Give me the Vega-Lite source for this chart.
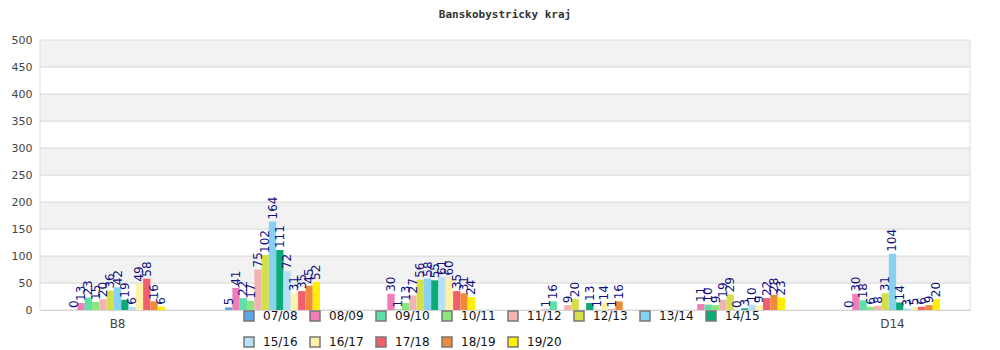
{
  "$schema": "https://vega.github.io/schema/vega-lite/v6.json",
  "width": 930,
  "height": 270,
  "autosize": {"type": "none"},
  "padding": {"left": 40, "top": 40, "right": 30, "bottom": 40},
  "background": "white",
  "title": {"text": "Banskobystricky kraj", "font": "DejaVu Sans Mono", "fontSize": 11, "fontWeight": "bold", "color": "#333", "anchor": "middle", "offset": 14},
  "config": {"view": {"stroke": null}, "axis": {"labelOverlap": false, "labelSeparation": 0}},
  "datasets": {
    "bands": [{"a": 0, "b": 50, "k": 0}, {"a": 50, "b": 100, "k": 1}, {"a": 100, "b": 150, "k": 0}, {"a": 150, "b": 200, "k": 1}, {"a": 200, "b": 250, "k": 0}, {"a": 250, "b": 300, "k": 1}, {"a": 300, "b": 350, "k": 0}, {"a": 350, "b": 400, "k": 1}, {"a": 400, "b": 450, "k": 0}, {"a": 450, "b": 500, "k": 1}],
    "vals": [
      {"g": "B8", "s": "07/08", "v": 0}, {"g": "B8", "s": "08/09", "v": 13}, {"g": "B8", "s": "09/10", "v": 23}, {"g": "B8", "s": "10/11", "v": 15}, {"g": "B8", "s": "11/12", "v": 20}, {"g": "B8", "s": "12/13", "v": 36}, {"g": "B8", "s": "13/14", "v": 42}, {"g": "B8", "s": "14/15", "v": 19}, {"g": "B8", "s": "15/16", "v": 6}, {"g": "B8", "s": "16/17", "v": 49}, {"g": "B8", "s": "17/18", "v": 58}, {"g": "B8", "s": "18/19", "v": 16}, {"g": "B8", "s": "19/20", "v": 6},
      {"g": "G2", "s": "07/08", "v": 5}, {"g": "G2", "s": "08/09", "v": 41}, {"g": "G2", "s": "09/10", "v": 22}, {"g": "G2", "s": "10/11", "v": 17}, {"g": "G2", "s": "11/12", "v": 75}, {"g": "G2", "s": "12/13", "v": 102}, {"g": "G2", "s": "13/14", "v": 164}, {"g": "G2", "s": "14/15", "v": 111}, {"g": "G2", "s": "15/16", "v": 72}, {"g": "G2", "s": "16/17", "v": 31}, {"g": "G2", "s": "17/18", "v": 35}, {"g": "G2", "s": "18/19", "v": 45}, {"g": "G2", "s": "19/20", "v": 52},
      {"g": "G3", "s": "07/08", "v": null}, {"g": "G3", "s": "08/09", "v": 30}, {"g": "G3", "s": "09/10", "v": 1}, {"g": "G3", "s": "10/11", "v": 13}, {"g": "G3", "s": "11/12", "v": 27}, {"g": "G3", "s": "12/13", "v": 56}, {"g": "G3", "s": "13/14", "v": 58}, {"g": "G3", "s": "14/15", "v": 55}, {"g": "G3", "s": "15/16", "v": 61}, {"g": "G3", "s": "16/17", "v": 60}, {"g": "G3", "s": "17/18", "v": 35}, {"g": "G3", "s": "18/19", "v": 31}, {"g": "G3", "s": "19/20", "v": 24},
      {"g": "G4", "s": "07/08", "v": null}, {"g": "G4", "s": "08/09", "v": 1}, {"g": "G4", "s": "09/10", "v": 16}, {"g": "G4", "s": "10/11", "v": null}, {"g": "G4", "s": "11/12", "v": 9}, {"g": "G4", "s": "12/13", "v": 20}, {"g": "G4", "s": "13/14", "v": null}, {"g": "G4", "s": "14/15", "v": 13}, {"g": "G4", "s": "15/16", "v": 1}, {"g": "G4", "s": "16/17", "v": 14}, {"g": "G4", "s": "17/18", "v": 1}, {"g": "G4", "s": "18/19", "v": 16}, {"g": "G4", "s": "19/20", "v": null},
      {"g": "G5", "s": "07/08", "v": null}, {"g": "G5", "s": "08/09", "v": 11}, {"g": "G5", "s": "09/10", "v": 10}, {"g": "G5", "s": "10/11", "v": 9}, {"g": "G5", "s": "11/12", "v": 19}, {"g": "G5", "s": "12/13", "v": 29}, {"g": "G5", "s": "13/14", "v": 0}, {"g": "G5", "s": "14/15", "v": 3}, {"g": "G5", "s": "15/16", "v": 10}, {"g": "G5", "s": "16/17", "v": 9}, {"g": "G5", "s": "17/18", "v": 22}, {"g": "G5", "s": "18/19", "v": 28}, {"g": "G5", "s": "19/20", "v": 23},
      {"g": "D14", "s": "07/08", "v": 0}, {"g": "D14", "s": "08/09", "v": 30}, {"g": "D14", "s": "09/10", "v": 18}, {"g": "D14", "s": "10/11", "v": 6}, {"g": "D14", "s": "11/12", "v": 8}, {"g": "D14", "s": "12/13", "v": 31}, {"g": "D14", "s": "13/14", "v": 104}, {"g": "D14", "s": "14/15", "v": 14}, {"g": "D14", "s": "15/16", "v": 3}, {"g": "D14", "s": "16/17", "v": 5}, {"g": "D14", "s": "17/18", "v": 6}, {"g": "D14", "s": "18/19", "v": 9}, {"g": "D14", "s": "19/20", "v": 20}
    ]
  },
  "layer": [
    {
      "data": {"name": "bands"},
      "mark": {"type": "rect", "stroke": "#dddddd", "strokeWidth": 1},
      "encoding": {
        "y": {"field": "a", "type": "quantitative", "scale": {"domain": [0, 500], "nice": false},
          "axis": {"title": null, "values": [0, 50, 100, 150, 200, 250, 300, 350, 400, 450, 500], "tickCount": 20, "labelOverlap": false, "labelFlush": false, "grid": false, "ticks": false, "domain": true, "domainColor": "#dddddd", "labelColor": "#444", "labelFont": "DejaVu Sans", "labelFontSize": 11, "labelPadding": 8}},
        "y2": {"field": "b"},
        "fill": {"field": "k", "type": "nominal", "scale": {"domain": [0, 1], "range": ["#ffffff", "#f2f2f2"]}, "legend": null}
      }
    },
    {
      "data": {"name": "vals"},
      "mark": {"type": "bar"},
      "encoding": {
        "x": {"field": "g", "type": "nominal", "sort": null, "scale": {"paddingInner": 0.387, "paddingOuter": 0.194},
          "axis": {"title": null, "labelAngle": 0, "ticks": false, "domainColor": "#cccccc", "labelColor": "#444", "labelFont": "DejaVu Sans", "labelFontSize": 12, "labelPadding": 8,
            "labelExpr": "datum.value == 'B8' || datum.value == 'D14' ? datum.value : ''"}},
        "xOffset": {"field": "s", "type": "nominal", "sort": null, "scale": {"paddingInner": 0, "paddingOuter": 0}},
        "y": {"field": "v", "type": "quantitative"},
        "color": {"field": "s", "type": "nominal", "sort": null,
          "scale": {"domain": ["07/08", "08/09", "09/10", "10/11", "11/12", "12/13", "13/14", "14/15", "15/16", "16/17", "17/18", "18/19", "19/20"],
            "range": ["#5da5e8", "#f07cb8", "#5ee0a8", "#8de57e", "#f4b3b3", "#d4df4a", "#85d3f0", "#0daa78", "#b6e0f6", "#fff1a8", "#f0606c", "#ee8a3a", "#ffee00"]},
          "legend": {"title": null, "orient": "none", "legendX": 203, "legendY": 270, "direction": "horizontal", "columns": 8, "symbolType": "square", "symbolSize": 100, "symbolStrokeColor": "#777777", "symbolStrokeWidth": 1.5, "symbolOpacity": 1, "labelFont": "DejaVu Sans", "labelFontSize": 12, "labelColor": "#111", "labelOffset": 8, "columnPadding": 9, "rowPadding": 10}}
      }
    },
    {
      "data": {"name": "vals"},
      "mark": {"type": "text", "angle": -90, "align": "left", "baseline": "middle", "dx": 2, "font": "DejaVu Sans", "fontSize": 12, "color": "#101080"},
      "encoding": {
        "x": {"field": "g", "type": "nominal", "sort": null},
        "xOffset": {"field": "s", "type": "nominal", "sort": null},
        "y": {"field": "v", "type": "quantitative"},
        "text": {"field": "v", "type": "quantitative"}
      }
    }
  ]
}
